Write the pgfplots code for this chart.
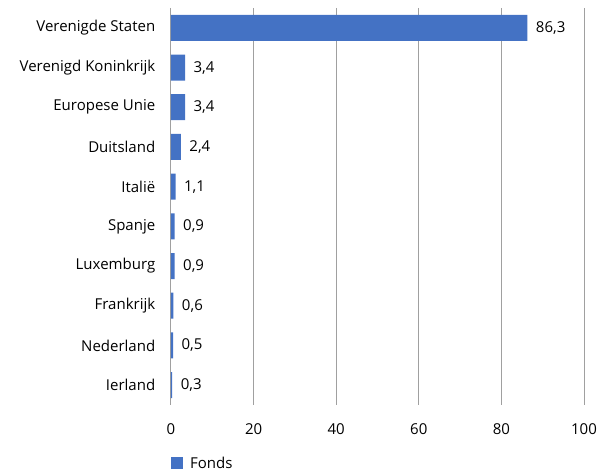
\documentclass[border=0pt]{standalone}
\usepackage{pgfplots}
\pgfplotsset{compat=1.18}
\usepackage{fontspec}
\setmainfont{Open Sans}
\usetikzlibrary{calc}
\definecolor{barblue}{RGB}{68,114,196}
\definecolor{gridgray}{RGB}{160,160,160}
\pgfkeys{/pgf/number format/assume math mode=true}

\begin{document}
\begin{tikzpicture}
\begin{axis}[
  xbar,
  scale only axis,
  width=413bp, height=397bp,
  xmin=0, xmax=100,
  ymin=-0.5, ymax=9.5,
  y dir=reverse,
  ytick={0,...,9},
  yticklabels={Verenigde Staten,Verenigd Koninkrijk,Europese Unie,Duitsland,Italië,Spanje,Luxemburg,Frankrijk,Nederland,Ierland},
  xtick={0,20,...,100},
  axis line style={draw=none},
  tick style={draw=none},
  xmajorgrids,
  major grid style={gridgray, line width=1pt},
  font=\fontsize{15bp}{18bp}\selectfont,
  ticklabel style={font=\fontsize{15bp}{18bp}\selectfont},
  xticklabel style={yshift=-15bp},
  yticklabel style={xshift=-8bp},
  bar width=26bp,
  nodes near coords={\pgfmathprintnumber[use comma,fixed,fixed zerofill,precision=1]{\pgfplotspointmeta}},
  nodes near coords style={anchor=west, xshift=5bp, black, font=\fontsize{15bp}{18bp}\selectfont},
  legend style={at={(0,-0.125)}, anchor=north west, draw=none, fill=none,
    font=\fontsize{15bp}{18bp}\selectfont, inner sep=0pt},
  legend cell align=left,
  legend image code/.code={\fill[barblue] (0bp,-6bp) rectangle (12bp,6bp);},
]
\addplot[fill=barblue, draw=none] coordinates {
  (86.3,0) (3.4,1) (3.4,2) (2.4,3) (1.1,4) (0.9,5) (0.9,6) (0.6,7) (0.5,8) (0.3,9)
};
\addlegendentry{\hspace{5bp}Fonds}
\end{axis}
\path ($(current axis.south west)+(-171bp,-65bp)$) rectangle ($(current axis.north east)+(30bp,8bp)$);
\end{tikzpicture}
\end{document}
